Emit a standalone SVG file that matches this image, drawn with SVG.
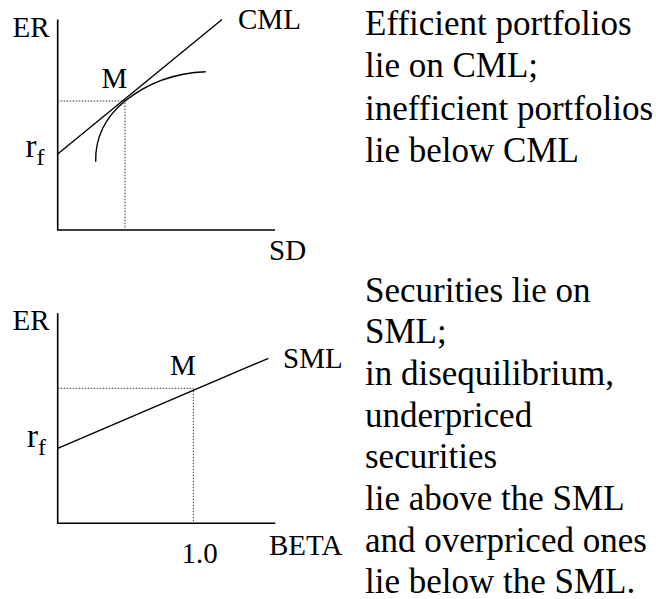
<svg xmlns="http://www.w3.org/2000/svg" width="656" height="599" viewBox="0 0 656 599" font-family="'Liberation Serif', 'Times New Roman', serif">
<style>
text { fill: #000; font-family: "Liberation Serif", "Times New Roman", serif; }
.lbl { font-size: 29px; }
.r { font-size: 33px; }
.sub { font-size: 24px; }
.txt { font-size: 35px; }
.axis { stroke: #000; stroke-width: 1.6; fill: none; }
.line { stroke: #000; stroke-width: 1.4; fill: none; }
.dot { stroke: #333; stroke-width: 1; stroke-dasharray: 1.5 1.5; fill: none; }
</style>
<rect width="656" height="599" fill="#fff"/>

<g id="cml-chart">
  <g id="cml-axes">
    <path class="axis" d="M57.7,19.5 V230 H275"/>
  </g>
  <g id="connectors-top">
    <path class="dot" d="M57.7,101 H125 V230"/>
    <path class="line" d="M57.7,154 L222,19.5"/>
    <path class="line" d="M95.7,161.7 C95,135 108,115 125,101 C145,85 170,73 205.7,71.7"/>
  </g>
  <g id="cml-labels">
    <text class="lbl" x="12.5" y="36.5">ER</text>
    <text class="lbl" x="238" y="29.3">CML</text>
    <text class="lbl" x="101.5" y="88.3">M</text>
    <text x="25.5" y="156.7"><tspan class="r">r</tspan><tspan class="sub" dy="8">f</tspan></text>
    <text class="lbl" x="269" y="260">SD</text>
  </g>
</g>

<g id="cml-text">
  <text class="txt" x="365" y="35">Efficient portfolios</text>
  <text class="txt" x="365" y="77.3">lie on CML;</text>
  <text class="txt" x="365" y="119.6">inefficient portfolios</text>
  <text class="txt" x="365" y="161.7">lie below CML</text>
</g>

<g id="sml-chart">
  <g id="sml-axes">
    <path class="axis" d="M57.7,313.3 V523.3 H275.3"/>
  </g>
  <g id="connectors-bottom">
    <path class="dot" d="M57.7,388.3 H193.3 V523.3"/>
    <path class="line" d="M57.7,448.3 L268.3,358.3"/>
  </g>
  <g id="sml-labels">
    <text class="lbl" x="12.5" y="330">ER</text>
    <text class="lbl" x="170" y="375">M</text>
    <text class="lbl" x="283" y="368.3">SML</text>
    <text x="27" y="446.7"><tspan class="r">r</tspan><tspan class="sub" dy="8">f</tspan></text>
    <text class="lbl" x="181.5" y="562.7">1.0</text>
    <text class="lbl" x="269" y="555">BETA</text>
  </g>
</g>

<g id="sml-text">
  <text class="txt" x="365" y="301.7">Securities lie on</text>
  <text class="txt" x="365" y="343.3">SML;</text>
  <text class="txt" x="365" y="385">in disequilibrium,</text>
  <text class="txt" x="365" y="426.7">underpriced</text>
  <text class="txt" x="365" y="468.4">securities</text>
  <text class="txt" x="365" y="510.1">lie above the SML</text>
  <text class="txt" x="365" y="551.8">and overpriced ones</text>
  <text class="txt" x="365" y="592.5">lie below the SML.</text>
</g>
</svg>
